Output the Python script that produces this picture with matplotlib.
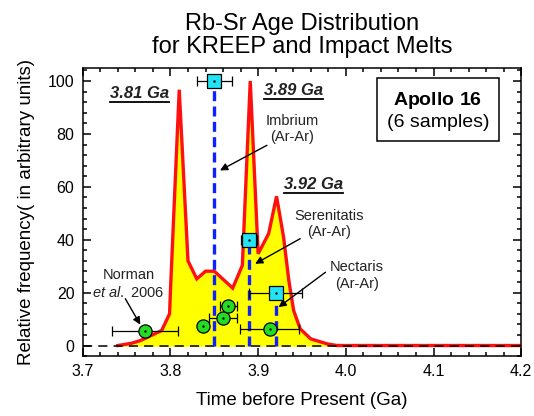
import matplotlib
matplotlib.use("Agg")
import matplotlib.pyplot as plt
from matplotlib.lines import Line2D
from matplotlib.ticker import MultipleLocator

plt.rcParams['font.family'] = ['Liberation Sans', 'DejaVu Sans']
plt.rcParams['mathtext.fontset'] = 'custom'
plt.rcParams['mathtext.rm'] = 'Liberation Sans'
plt.rcParams['mathtext.it'] = 'Liberation Sans:italic'
plt.rcParams['mathtext.bf'] = 'Liberation Sans:bold'

# age distribution curve (Ga, relative frequency)
curve_age = [3.74, 3.755, 3.765, 3.7725, 3.79, 3.799, 3.80, 3.81, 3.82, 3.83, 3.84, 3.85,
             3.871, 3.882, 3.891, 3.900, 3.912, 3.921, 3.929, 3.935, 3.9405, 3.948,
             3.96, 3.979, 3.99, 4.2]
curve_freq = [0, 0.8, 1.8, 2.9, 5.7, 12, 20.8, 96.7, 32, 25.2, 28.1, 28.1,
              21.7, 30.3, 100, 34.7, 42.3, 56.4, 41, 24.6, 13.2, 6.3,
              2.5, 0.6, 0, 0]

# Ar-Ar basin ages
basin_names = ['Imbrium', 'Serenitatis', 'Nectaris']
basin_age = [3.85, 3.89, 3.92]
basin_err = [0.02, 0.009, 0.03]
basin_level = [100, 40, 20]

# Norman et al. 2006 points
norman_age = [3.771, 3.837, 3.86, 3.866, 3.913]
norman_err = [0.038, 0.0, 0.016, 0.01, 0.034]
norman_freq = [5.3, 7.2, 10.5, 15.1, 6.3]

peak_labels = ['3.81 Ga', '3.89 Ga', '3.92 Ga']

fig = plt.figure(figsize=(5.34, 4.16), dpi=100)
ax = fig.add_axes([0.155, 0.144, 0.821, 0.693])

ax.fill_between(curve_age, curve_freq, 0, color='#ffff00', zorder=1)
ax.plot(curve_age, curve_freq, color='#ff1010', lw=2.4, zorder=2, solid_joinstyle='miter')
ax.axhline(0, color='k', lw=1.1, ls=(0, (6, 4)), zorder=3)

for a, lev in zip(basin_age, basin_level):
    ax.plot([a, a], [0, lev], color='#1020ff', lw=2.4, ls=(0, (3, 1.6)), zorder=4)
ax.errorbar(basin_age, basin_level, xerr=basin_err, fmt='s', ms=9.5, mfc='#22e4f4',
            mec='k', mew=0.9, ecolor='k', elinewidth=0.9, capsize=3.5, zorder=6)
ax.plot(basin_age, basin_level, '.', color='k', ms=1.5, zorder=7)

ax.errorbar(norman_age, norman_freq, xerr=norman_err, fmt='o', ms=9.5, mfc='#22dd22',
            mec='k', mew=0.9, ecolor='k', elinewidth=0.9, capsize=3.5, zorder=6)
ax.plot(norman_age, norman_freq, '.', color='k', ms=1.5, zorder=7)

# annotations
arrow = dict(arrowstyle='-|>', color='k', lw=1.0, mutation_scale=11, shrinkA=0, shrinkB=0)
ann_fs = 10.5
txt_col = '#222222'
ax.text(3.9386, 82, 'Imbrium\n(Ar-Ar)', ha='center', va='center', fontsize=ann_fs, color=txt_col, zorder=8)
ax.annotate('', xy=(3.8565, 66.2), xytext=(3.91, 75.7), arrowprops=arrow)
ax.text(3.9806, 46, 'Serenitatis\n(Ar-Ar)', ha='center', va='center', fontsize=ann_fs, color=txt_col, zorder=8)
ax.annotate('', xy=(3.8966, 30.9), xytext=(3.948, 40.4), arrowprops=arrow)
ax.text(4.013, 26.5, 'Nectaris\n(Ar-Ar)', ha='center', va='center', fontsize=ann_fs, color=txt_col, zorder=8)
ax.annotate('', xy=(3.9233, 14.5), xytext=(3.9768, 27.7), arrowprops=arrow)
ax.text(3.752, 23.3, 'Norman\n$\\it{et\\ al.}$ 2006', ha='center', va='center', fontsize=ann_fs,
        color=txt_col, zorder=8)
ax.annotate('', xy=(3.7656, 7.9), xytext=(3.7485, 17.7), arrowprops=arrow)

peak_pos = [(3.765, 95.2), (3.9407, 96.5), (3.9634, 61)]
peak_texts = []
for lab, (px, py) in zip(peak_labels, peak_pos):
    t = ax.text(px, py, lab, ha='center', va='center', fontsize=12, fontweight='bold',
                fontstyle='italic', color=txt_col, zorder=8)
    peak_texts.append(t)

ax.text(0.81, 0.852, r'$\bf{Apollo\ 16}$' + '\n(6 samples)', transform=ax.transAxes,
        ha='center', va='center', fontsize=14, linespacing=1.25,
        bbox=dict(boxstyle='square,pad=0.5', fc='white', ec='k', lw=1.1), zorder=9)

ax.set_xlim(3.7, 4.2)
ax.set_ylim(-4, 105)
ax.xaxis.set_major_locator(MultipleLocator(0.1))
ax.xaxis.set_minor_locator(MultipleLocator(0.02))
ax.yaxis.set_major_locator(MultipleLocator(20))
ax.yaxis.set_minor_locator(MultipleLocator(4))
ax.set_xticklabels([f'{v:.1f}' for v in ax.get_xticks()])
ax.tick_params(which='both', direction='in', top=True, right=True, labelsize=11.5, width=1.1)
ax.tick_params(which='major', length=5.5, pad=6)
ax.tick_params(which='minor', length=3)
for s in ax.spines.values():
    s.set_linewidth(1.1)

ax.set_xlabel('Time before Present (Ga)', fontsize=13.5, labelpad=9)
ax.set_ylabel('Relative frequency( in arbitrary units)', fontsize=13.5, labelpad=9)
ax.set_title('Rb-Sr Age Distribution\nfor KREEP and Impact Melts', fontsize=17, linespacing=1.05, pad=11)

# underline the peak labels
fig.canvas.draw()
r = fig.canvas.get_renderer()
for t in peak_texts:
    bb = t.get_window_extent(r)
    yy = bb.y0 - 1.0
    fig.add_artist(Line2D([bb.x0, bb.x1], [yy, yy], color='k', lw=1.3, transform=None))

fig.savefig('out.png', dpi=100)
